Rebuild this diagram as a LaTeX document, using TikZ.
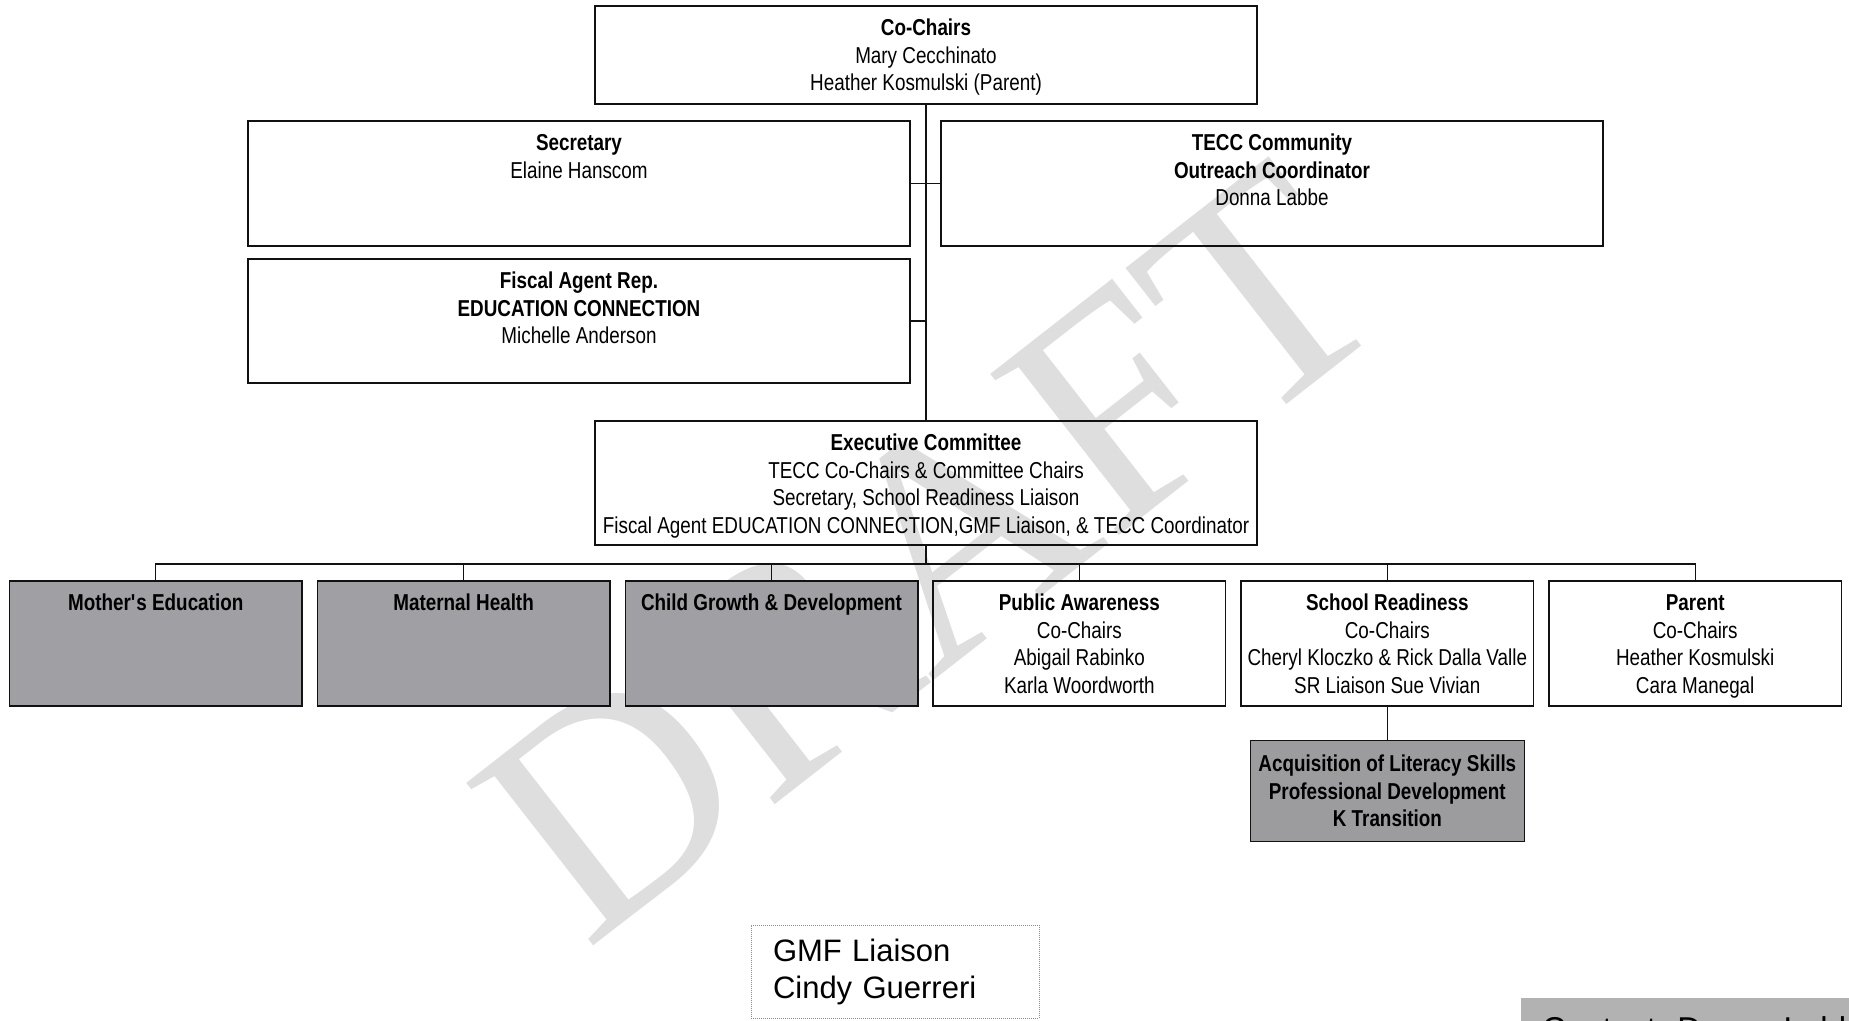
\documentclass[tikz,border=0pt]{standalone}
\usepackage{fontspec}
\setmainfont{Liberation Sans}[FakeStretch=0.82]
\newfontfamily\plainsans{Liberation Sans}
\newfontfamily\stampfont{Liberation Serif}
\usetikzlibrary{positioning}
\definecolor{tcInk}      {HTML}{111111}
\definecolor{tcShade}    {HTML}{A09FA4}
\definecolor{tcShadeDark}{HTML}{9C9C9F}
\definecolor{tcNote}     {HTML}{B2B2B2}
\definecolor{tcStamp}    {HTML}{DEDEDE}
\definecolor{tcDots}     {HTML}{8C8C8C}
\newcommand{\orgtext}{\fontsize{23}{27.7}\selectfont}
\newcommand{\unitbody}[3]{\parbox[c][#2][t]{#1}{\centering\vspace*{10pt}\strut#3}}

\begin{document}
\begin{tikzpicture}[x=1pt,y=-1pt,
    unit/.style={draw=tcInk,line width=1.4pt,inner sep=0pt,font=\orgtext},
    shaded/.style={unit,fill=tcShade},
    link/.style={draw=tcInk,line width=1.2pt}]
  \useasboundingbox (0,0) rectangle (1849,1020);

  % watermark
  \node[text=tcStamp,rotate=38,inner sep=0pt,
        font=\stampfont\fontsize{315}{315}\selectfont] (stamp) at (930,552) {DRAFT};

  % board
  \node[unit] (cochairs) at (926,55)
    {\unitbody{662pt}{98pt}{\textbf{Co-Chairs}\\Mary Cecchinato\\Heather Kosmulski (Parent)}};
  \node[unit] (secretary) at (579,183.5)
    {\unitbody{662pt}{125pt}{\textbf{Secretary}\\Elaine Hanscom}};
  \node[unit] (fiscal) at (579,321)
    {\unitbody{662pt}{124pt}{\textbf{Fiscal Agent Rep.}\\\textbf{EDUCATION CONNECTION}\\Michelle Anderson}};
  \node[unit] (outreach) at (1272,183.5)
    {\unitbody{662pt}{125pt}{\textbf{TECC Community}\\\textbf{Outreach Coordinator}\\Donna Labbe}};
  \node[unit] (exec) at (926,483)
    {\unitbody{662pt}{124pt}{\textbf{Executive Committee}\\TECC Co-Chairs \& Committee Chairs\\
     Secretary, School Readiness Liaison\\Fiscal Agent EDUCATION CONNECTION,GMF Liaison, \& TECC Coordinator}};

  % committees
  \node[shaded] (mothers) at (155.7,643.5)
    {\unitbody{292.6pt}{125pt}{\textbf{Mother\textquotesingle s Education}}};
  \node[shaded,right=13.9pt of mothers] (maternal)
    {\unitbody{292.6pt}{125pt}{\textbf{Maternal Health}}};
  \node[shaded,right=13.9pt of maternal] (childgrowth)
    {\unitbody{292.6pt}{125pt}{\textbf{Child Growth \& Development}}};
  \node[unit,right=13.9pt of childgrowth] (awareness)
    {\unitbody{292.6pt}{125pt}{\textbf{Public Awareness}\\Co-Chairs\\Abigail Rabinko\\Karla Woordworth}};
  \node[unit,right=13.9pt of awareness] (readiness)
    {\unitbody{292.6pt}{125pt}{\textbf{School Readiness}\\Co-Chairs\\Cheryl Kloczko \& Rick Dalla Valle\\SR Liaison Sue Vivian}};
  \node[unit,right=13.9pt of readiness] (parent)
    {\unitbody{292.6pt}{125pt}{\textbf{Parent}\\Co-Chairs\\Heather Kosmulski\\Cara Manegal}};
  \node[unit,fill=tcShadeDark,below=33pt of readiness,minimum width=274pt,minimum height=101pt,
        align=center,font=\orgtext\bfseries] (literacy)
    {Acquisition of Literacy Skills\\Professional Development\\K Transition};

  % liaison and contact
  \node[draw=tcDots,densely dotted,line width=1pt,minimum width=288pt,minimum height=93pt,
        text width=244pt,inner xsep=22pt,align=left,
        font=\plainsans\fontsize{31}{37}\selectfont] (gmf) at (895,971.5)
    {GMF Liaison\\Cindy Guerreri};
  \begin{scope}
    \clip (0,0) rectangle (1849,1020);
    \node[anchor=north west,fill=tcNote,minimum width=360pt,minimum height=60pt,
          inner xsep=21pt,inner ysep=15pt,align=left,
          font=\plainsans\fontsize{33}{40}\selectfont] (contact) at (1521,998)
      {Contact: Donna Labbe};
  \end{scope}

  % connectors
  \coordinate (bus) at (926,564);
  \draw[link] (cochairs.south) -- (exec.north);
  \draw[link] (secretary.east) -- (secretary.east -| cochairs.south);
  \draw[link] (outreach.west) -- (outreach.west -| cochairs.south);
  \draw[link] (fiscal.east) -- (fiscal.east -| cochairs.south);
  \draw[link] (exec.south) -- (bus);
  \draw[link] (mothers.north) |- (bus) -| (parent.north);
  \foreach \u in {maternal,childgrowth,awareness,readiness}
    \draw[link] (\u.north) -- (\u.north |- bus);
  \draw[link] (readiness.south) -- (literacy.north);
\end{tikzpicture}
\end{document}
